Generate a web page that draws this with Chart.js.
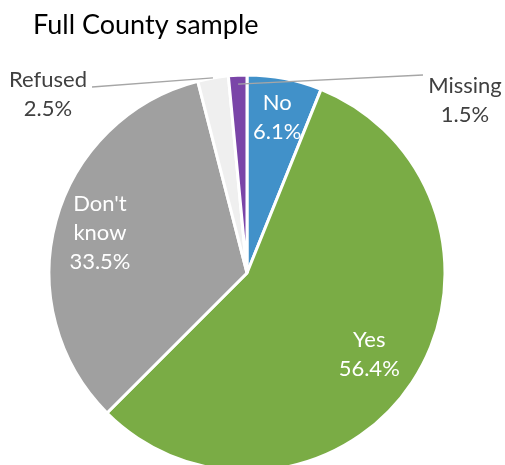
<!DOCTYPE html>
<html>
<head>
<meta charset="utf-8">
<script src="https://cdn.jsdelivr.net/npm/chart.js@4.4.0/dist/chart.umd.min.js"></script>
<style>
html,body{margin:0;padding:0;background:#fff;overflow:hidden;}
#wrap{width:505px;height:465px;position:relative;}
</style>
</head>
<body>
<div id="wrap"><canvas id="c" width="505" height="465"></canvas></div>
<script>
const title = "Full County sample";
const categories = ["No", "Yes", "Don't\nknow", "Refused", "Missing"];
const values = [6.1, 56.4, 33.5, 2.5, 1.5];
const valueLabels = ["6.1%", "56.4%", "33.5%", "2.5%", "1.5%"];
const colors = ["#4191C9", "#7AAC45", "#A0A0A0", "#EFEFEF", "#7A45A8"];
// label placement: inside (fraction of radius) or outside (offset from centre)
const labelInside = [true, true, true, false, false];
const insideFactor = [0.8, 0.74, 0.77, 0, 0];

const FONT = "Lato, 'Open Sans', sans-serif";

const labelPlugin = {
  id: 'labels',
  afterDatasetsDraw(chart) {
    const ctx = chart.ctx;
    const meta = chart.getDatasetMeta(0);
    ctx.save();
    ctx.textAlign = 'center';
    ctx.textBaseline = 'alphabetic';
    const lineH = 29;
    meta.data.forEach((arc, i) => {
      const cx = arc.x, cy = arc.y, R = arc.outerRadius;
      const mid = (arc.startAngle + arc.endAngle) / 2;
      const lines = categories[i].split("\n").concat([valueLabels[i]]);
      ctx.font = "22px " + FONT;
      if (labelInside[i]) {
        const r = R * insideFactor[i];
        const lx = cx + r * Math.cos(mid), ly = cy + r * Math.sin(mid);
        ctx.fillStyle = "#FFFFFF";
        const top = ly - (lines.length * lineH) / 2;
        lines.forEach((t, k) => ctx.fillText(t, lx, top + (k + 1) * lineH - 7));
      } else {
        let lx, ly, ex, ey, sr;
        if (i === 3) { lx = cx - 199; ly = cy - 179; ex = cx - 155; ey = cy - 186; sr = R; }
        else { lx = cx + 218; ly = cy - 173; ex = cx + 176; ey = cy - 198; sr = R * 0.955; }
        const sx = cx + sr * Math.cos(mid), sy = cy + sr * Math.sin(mid);
        ctx.strokeStyle = "#A6A6A6";
        ctx.lineWidth = 1.3;
        ctx.beginPath();
        ctx.moveTo(sx, sy);
        ctx.lineTo(ex, ey);
        ctx.stroke();
        ctx.fillStyle = "#404040";
        const top = ly - (lines.length * lineH) / 2;
        lines.forEach((t, k) => ctx.fillText(t, lx, top + (k + 1) * lineH - 7));
      }
    });
    // title
    ctx.textAlign = 'left';
    ctx.fillStyle = "#000000";
    ctx.font = "27px " + FONT;
    ctx.fillText(title, 33, 34);
    ctx.restore();
  }
};

new Chart(document.getElementById('c'), {
  type: 'pie',
  data: {
    labels: categories,
    datasets: [{
      data: values,
      backgroundColor: colors,
      borderColor: "#FFFFFF",
      borderWidth: 3
    }]
  },
  options: {
    responsive: false,
    animation: false,
    radius: 198,
    layout: { padding: { left: 0, right: 11, top: 81, bottom: 0 } },
    plugins: {
      legend: { display: false },
      tooltip: { enabled: false },
      title: { display: false }
    }
  },
  plugins: [labelPlugin]
});
</script>
</body>
</html>
